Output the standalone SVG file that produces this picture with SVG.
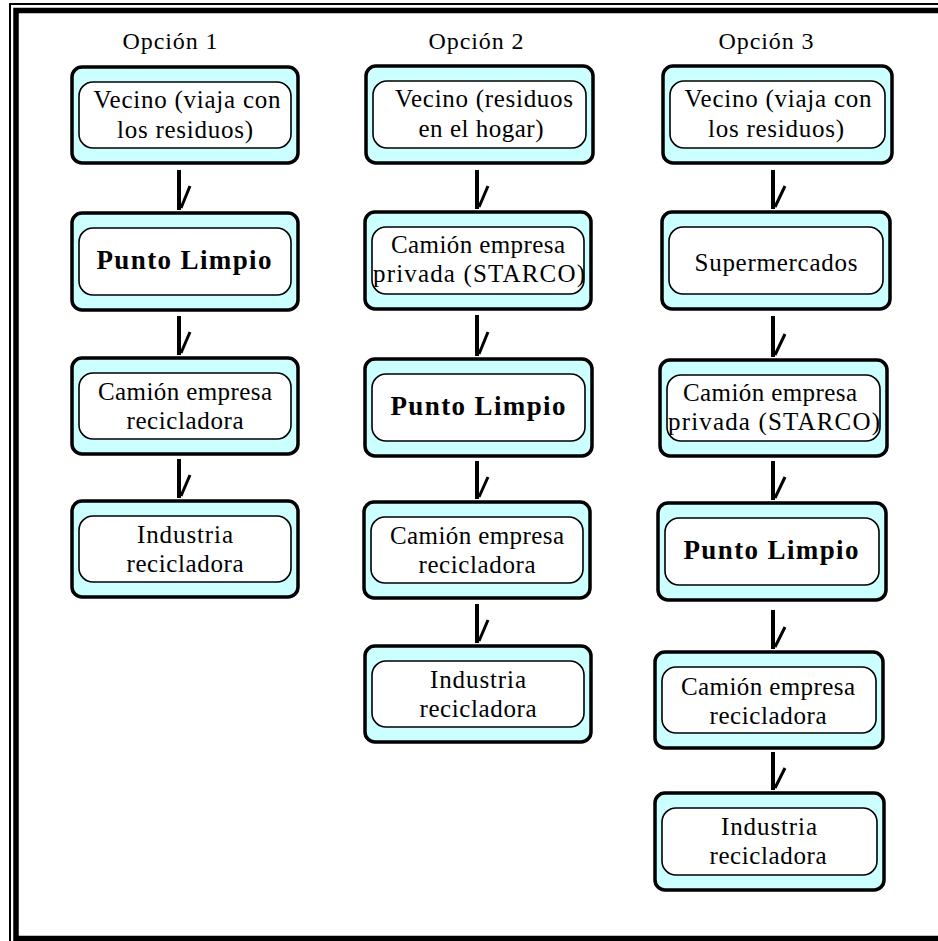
<svg xmlns="http://www.w3.org/2000/svg" width="938" height="941" viewBox="0 0 938 941">
<style>
.o{fill:#ccffff;stroke:#000;stroke-width:3.5}
.i{fill:#fff;stroke:#000;stroke-width:1.6}
text{font-family:"Liberation Serif","Times New Roman",serif;font-size:25px;fill:#000;text-anchor:middle}
.b{font-weight:bold;font-size:27px}
.h{font-size:24px}
.a{fill:none;stroke:#000;stroke-width:4}
.s{fill:none;stroke:#000;stroke-width:3}
</style>
<rect x="0" y="0" width="938" height="941" fill="#fff"/>
<g id="frame">
<path d="M10 941 V4 H938" fill="none" stroke="#000" stroke-width="2"/>
<path d="M16 941 V10.5 H938 M16 938.5 H938" fill="none" stroke="#000" stroke-width="5.5"/>
</g>
<g id="headers">
<text class="h" x="170" y="49" textLength="95" lengthAdjust="spacing">Opción 1</text>
<text class="h" x="476" y="49" textLength="95" lengthAdjust="spacing">Opción 2</text>
<text class="h" x="766" y="49" textLength="95" lengthAdjust="spacing">Opción 3</text>
</g>
<!-- Column 1 -->
<g id="c1n1"><rect class="o" x="72" y="67" width="226" height="96" rx="10"/><rect class="i" x="79" y="82" width="212" height="66" rx="14"/>
<text x="187" y="108" textLength="187" lengthAdjust="spacing">Vecino (viaja con</text><text x="185" y="138" textLength="136" lengthAdjust="spacing">los residuos)</text></g>
<g id="c1n2"><rect class="o" x="72" y="213" width="226" height="97" rx="10"/><rect class="i" x="79" y="228" width="212" height="67" rx="14"/>
<text class="b" x="184" y="269" textLength="175" lengthAdjust="spacing">Punto Limpio</text></g>
<g id="c1n3"><rect class="o" x="72" y="358" width="226" height="96" rx="10"/><rect class="i" x="79" y="373" width="212" height="66" rx="14"/>
<text x="185" y="400" textLength="174" lengthAdjust="spacing">Camión empresa</text><text x="185" y="429" textLength="117" lengthAdjust="spacing">recicladora</text></g>
<g id="c1n4"><rect class="o" x="72" y="501" width="226" height="96" rx="10"/><rect class="i" x="79" y="516" width="212" height="66" rx="14"/>
<text x="185" y="543" textLength="96" lengthAdjust="spacing">Industria</text><text x="185" y="572" textLength="117" lengthAdjust="spacing">recicladora</text></g>
<!-- Column 2 -->
<g id="c2n1"><rect class="o" x="366" y="66" width="227" height="97" rx="10"/><rect class="i" x="373" y="81" width="213" height="67" rx="14"/>
<text x="484" y="107" textLength="178" lengthAdjust="spacing">Vecino (residuos</text><text x="481" y="137" textLength="125" lengthAdjust="spacing">en el hogar)</text></g>
<g id="c2n2"><rect class="o" x="365" y="212" width="226" height="97" rx="10"/><rect class="i" x="372" y="227" width="212" height="67" rx="14"/>
<text x="478" y="253" textLength="174" lengthAdjust="spacing">Camión empresa</text><text x="479" y="282" textLength="212" lengthAdjust="spacing">privada (STARCO)</text></g>
<g id="c2n3"><rect class="o" x="365" y="359" width="227" height="97" rx="10"/><rect class="i" x="372" y="374" width="213" height="67" rx="14"/>
<text class="b" x="478" y="415" textLength="175" lengthAdjust="spacing">Punto Limpio</text></g>
<g id="c2n4"><rect class="o" x="364" y="502" width="226" height="96" rx="10"/><rect class="i" x="371" y="517" width="212" height="66" rx="14"/>
<text x="477" y="544" textLength="174" lengthAdjust="spacing">Camión empresa</text><text x="477" y="573" textLength="117" lengthAdjust="spacing">recicladora</text></g>
<g id="c2n5"><rect class="o" x="365" y="646" width="226" height="96" rx="10"/><rect class="i" x="372" y="661" width="212" height="66" rx="14"/>
<text x="478" y="688" textLength="96" lengthAdjust="spacing">Industria</text><text x="478" y="717" textLength="117" lengthAdjust="spacing">recicladora</text></g>
<!-- Column 3 -->
<g id="c3n1"><rect class="o" x="663" y="66" width="229" height="97" rx="10"/><rect class="i" x="670" y="81" width="215" height="67" rx="14"/>
<text x="778" y="107" textLength="187" lengthAdjust="spacing">Vecino (viaja con</text><text x="776" y="137" textLength="136" lengthAdjust="spacing">los residuos)</text></g>
<g id="c3n2"><rect class="o" x="662" y="212" width="228" height="97" rx="10"/><rect class="i" x="669" y="227" width="214" height="67" rx="14"/>
<text x="776" y="271" textLength="163" lengthAdjust="spacing">Supermercados</text></g>
<g id="c3n3"><rect class="o" x="660" y="360" width="227" height="96" rx="10"/><rect class="i" x="667" y="375" width="213" height="66" rx="14"/>
<text x="770" y="401" textLength="174" lengthAdjust="spacing">Camión empresa</text><text x="774" y="430" textLength="212" lengthAdjust="spacing">privada (STARCO)</text></g>
<g id="c3n4"><rect class="o" x="658" y="503" width="228" height="97" rx="10"/><rect class="i" x="665" y="518" width="214" height="67" rx="14"/>
<text class="b" x="771" y="559" textLength="175" lengthAdjust="spacing">Punto Limpio</text></g>
<g id="c3n5"><rect class="o" x="655" y="652" width="228" height="96" rx="10"/><rect class="i" x="662" y="667" width="214" height="66" rx="14"/>
<text x="768" y="695" textLength="174" lengthAdjust="spacing">Camión empresa</text><text x="768" y="724" textLength="117" lengthAdjust="spacing">recicladora</text></g>
<g id="c3n6"><rect class="o" x="655" y="793" width="229" height="97" rx="10"/><rect class="i" x="662" y="808" width="215" height="67" rx="14"/>
<text x="769" y="835" textLength="96" lengthAdjust="spacing">Industria</text><text x="768" y="864" textLength="117" lengthAdjust="spacing">recicladora</text></g>
<g id="connectors">
<path class="a" d="M179 170 V210 M179 316 V355 M179 459 V498"/>
<path class="s" d="M190 186 L181 208 M190 332 L181 353 M190 475 L181 496"/>
<path class="a" d="M477 170 V209 M477 315 V356 M477 461 V499 M477 604 V643"/>
<path class="s" d="M488 186 L479 207 M488 332 L479 354 M488 477 L479 497 M488 620 L479 641"/>
<path class="a" d="M773 170 V209 M773 316 V357 M773 461 V500 M773 610 V649 M773 752 V790"/>
<path class="s" d="M785 186 L775 207 M785 334 L775 355 M785 477 L775 498 M785 627 L775 647 M785 768 L775 788"/>
</g>
</svg>
